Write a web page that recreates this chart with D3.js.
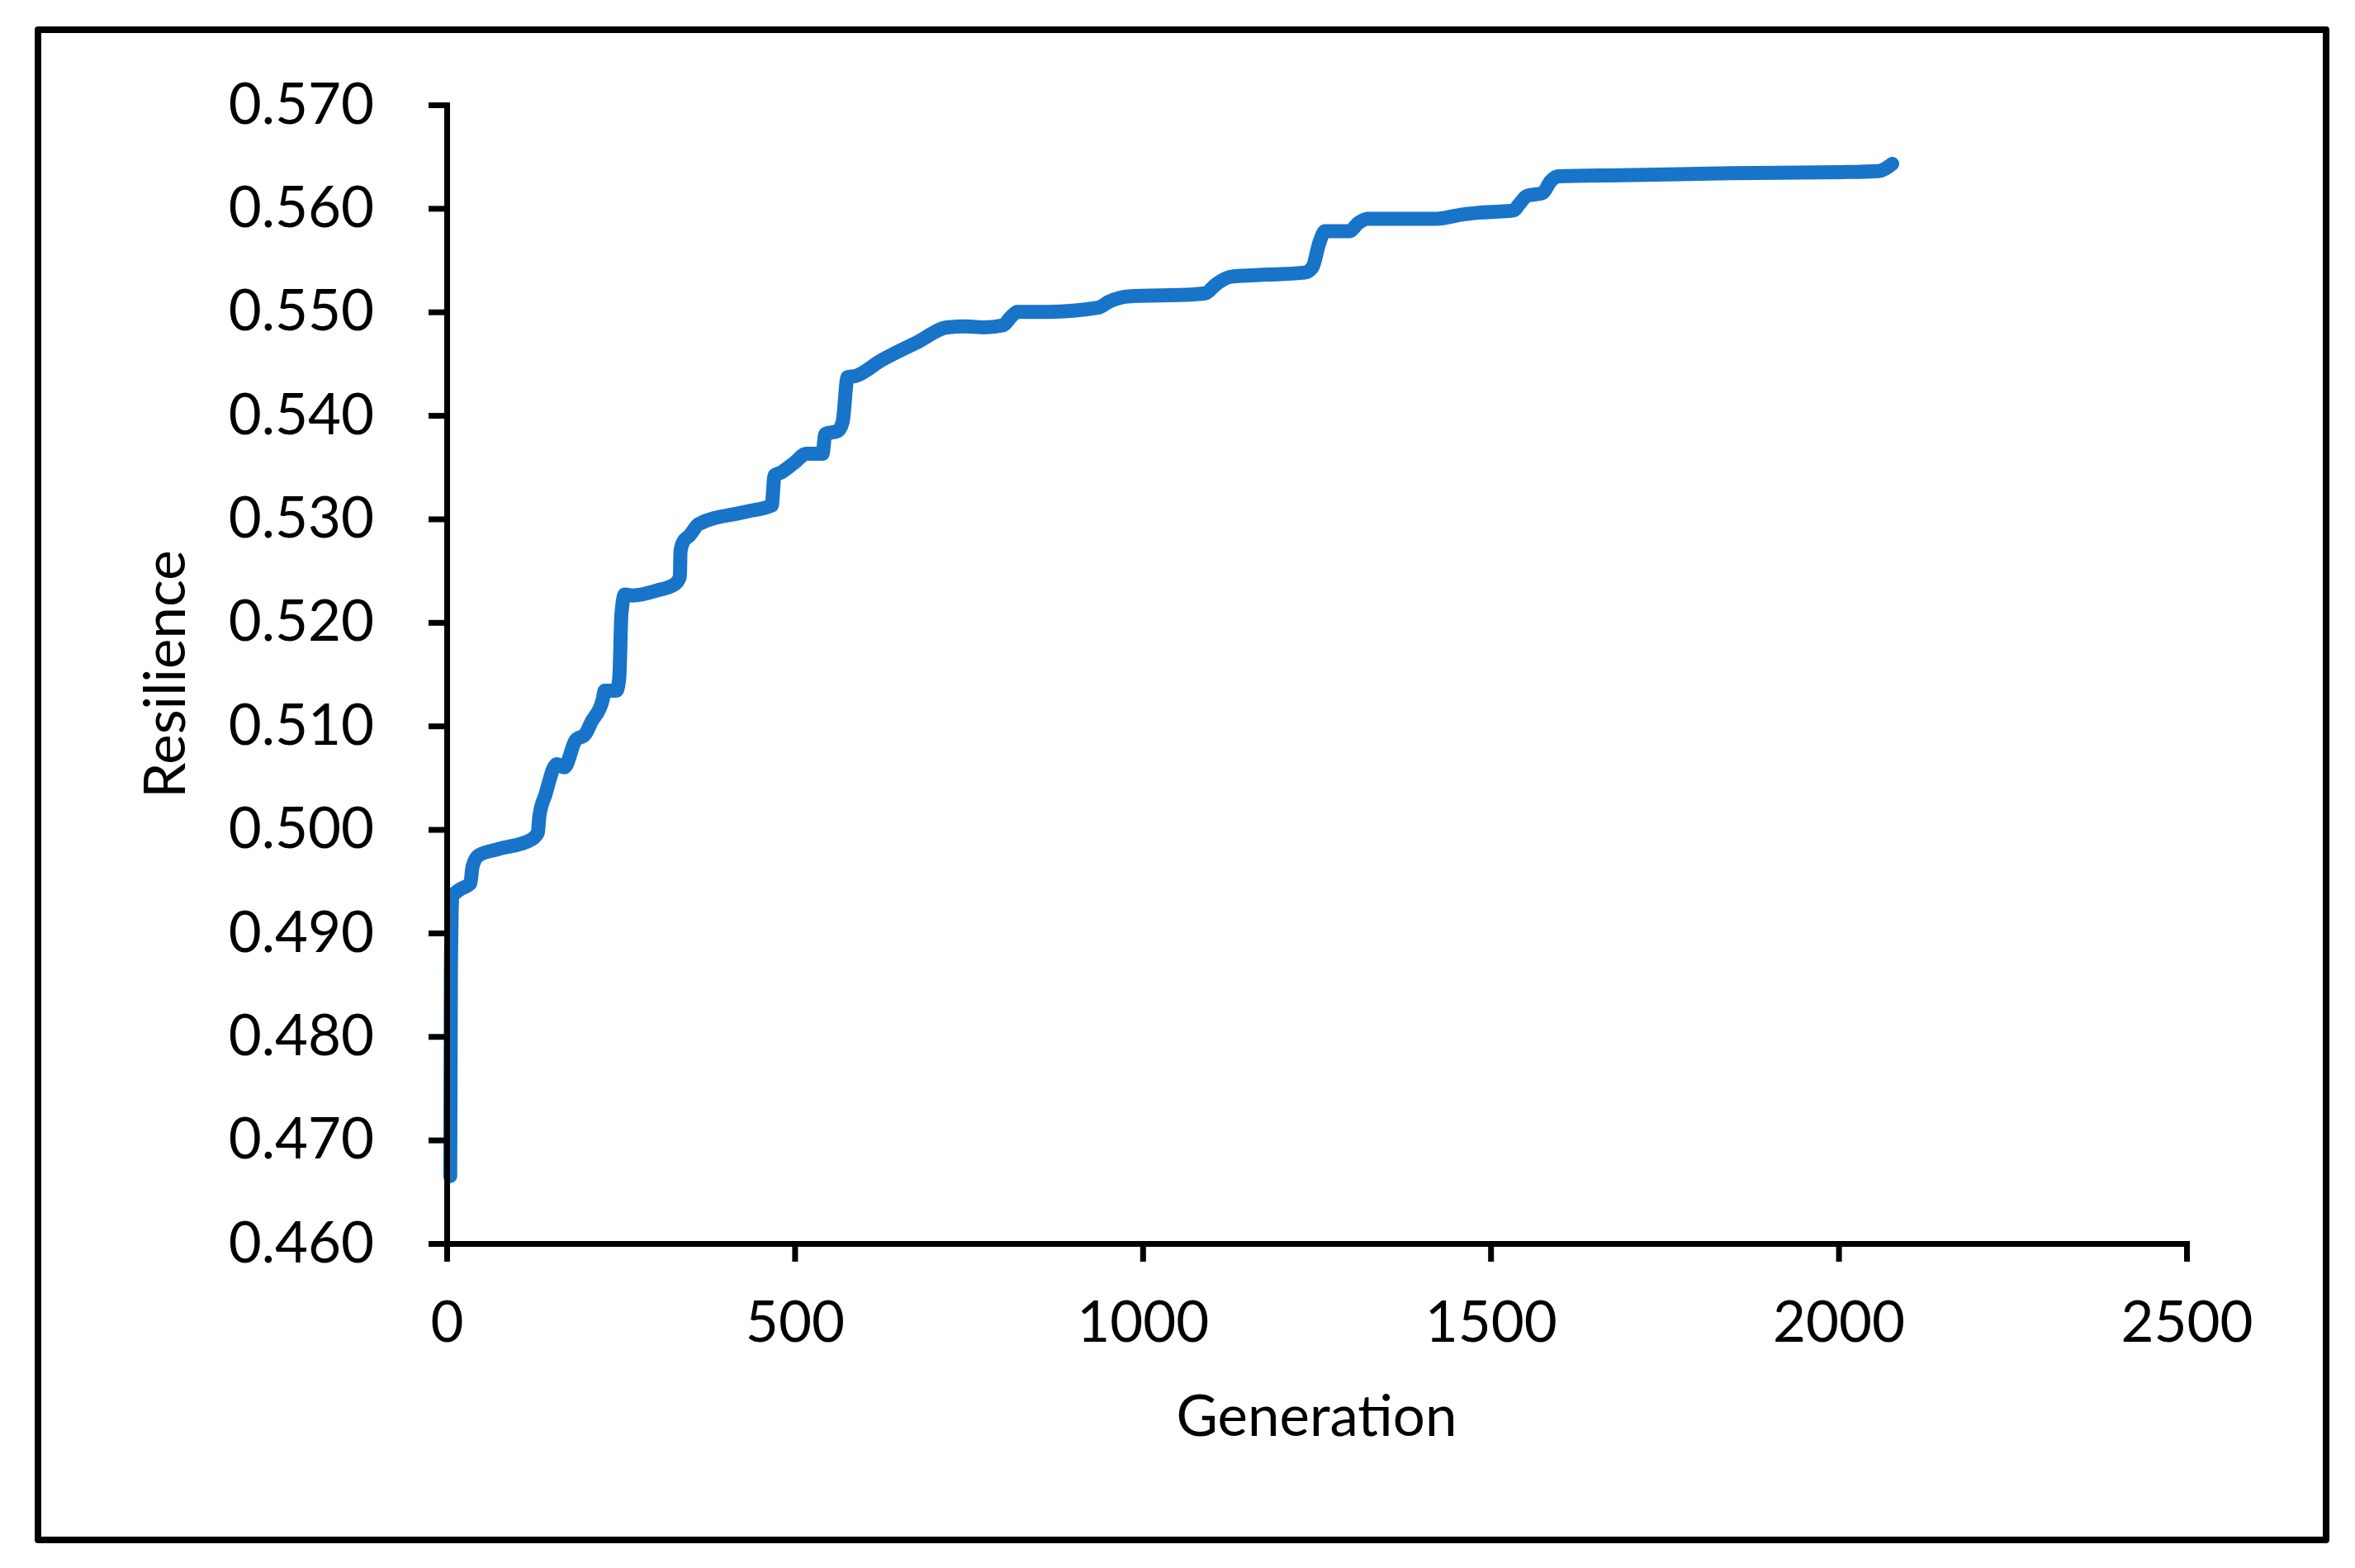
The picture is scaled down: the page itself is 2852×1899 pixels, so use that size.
<!DOCTYPE html>
<html>
<head>
<meta charset="utf-8">
<script src="https://cdn.jsdelivr.net/npm/d3@7"></script>
<style>
  html, body { margin: 0; padding: 0; background: #ffffff; }
  svg { display: block; }
</style>
</head>
<body>
<svg id="chart" width="2852" height="1899"></svg>
<script>
// ---- data ----
const generation = [5, 6, 8, 19, 34, 37, 46, 74, 121, 131, 133, 142, 158, 169, 185, 199, 208, 224, 227, 244, 248, 251, 256, 267, 303, 328, 335, 336, 340, 349, 362, 430, 467, 471, 481, 499, 517, 540, 544, 562, 569, 576, 587, 624, 677, 719, 746, 772, 799, 812, 820, 862, 936, 952, 979, 1074, 1090, 1106, 1127, 1180, 1233, 1244, 1254, 1262, 1297, 1310, 1323, 1422, 1459, 1486, 1533, 1541, 1552, 1575, 1586, 1597, 1687, 1845, 2004, 2057, 2077];
const resilience = [0.4665, 0.4860, 0.4935, 0.4942, 0.4948, 0.4964, 0.4975, 0.4981, 0.4990, 0.4997, 0.5012, 0.5034, 0.5063, 0.5060, 0.5086, 0.5092, 0.5104, 0.5125, 0.5134, 0.5134, 0.5147, 0.5208, 0.5227, 0.5226, 0.5231, 0.5237, 0.5244, 0.5269, 0.5278, 0.5284, 0.5295, 0.5307, 0.5313, 0.5342, 0.5345, 0.5354, 0.5363, 0.5363, 0.5382, 0.5385, 0.5394, 0.5437, 0.5438, 0.5453, 0.5471, 0.5485, 0.5486, 0.5485, 0.5487, 0.5496, 0.5500, 0.5500, 0.5504, 0.5510, 0.5515, 0.5517, 0.5518, 0.5527, 0.5534, 0.5536, 0.5538, 0.5543, 0.5567, 0.5578, 0.5578, 0.5586, 0.5590, 0.5590, 0.5594, 0.5596, 0.5598, 0.5604, 0.5612, 0.5615, 0.5626, 0.5631, 0.5632, 0.5634, 0.5635, 0.5636, 0.5643];
const xTicks = [0, 500, 1000, 1500, 2000, 2500];
const yTicks = [0.460, 0.470, 0.480, 0.490, 0.500, 0.510, 0.520, 0.530, 0.540, 0.550, 0.560, 0.570];
const xTitle = "Generation";
const yTitle = "Resilience";

// ---- layout ----
const FONT = "Lato, 'Open Sans', sans-serif";
const FS = "69px";
const svg = d3.select("#chart");

svg.append("rect")
  .attr("x", 46).attr("y", 36)
  .attr("width", 2771).attr("height", 1829)
  .attr("fill", "#ffffff")
  .attr("stroke", "#000000")
  .attr("stroke-width", 8)
  .attr("stroke-linejoin", "round");

const x = d3.scaleLinear().domain([0, 2500]).range([541, 2648]);
const y = d3.scaleLinear().domain([0.46, 0.57]).range([1506, 127]);

const data = generation.map((g, i) => ({ g, v: resilience[i] }));

const line = d3.line()
  .x(d => x(d.g))
  .y(d => y(d.v))
  .curve(d3.curveMonotoneX);

svg.append("path")
  .datum(data)
  .attr("d", line)
  .attr("fill", "none")
  .attr("stroke", "#1874c8")
  .attr("stroke-width", 17)
  .attr("stroke-linejoin", "round")
  .attr("stroke-linecap", "round");

// x axis
const gx = svg.append("g")
  .attr("transform", `translate(0,${y(0.46)})`)
  .call(d3.axisBottom(x).tickValues(xTicks).tickSize(22).tickSizeOuter(0).tickPadding(48).tickFormat(d3.format("d")));

// y axis
const gy = svg.append("g")
  .attr("transform", `translate(${x(0)},0)`)
  .call(d3.axisLeft(y).tickValues(yTicks).tickSize(22).tickSizeOuter(0).tickPadding(66).tickFormat(d3.format(".3f")));

[gx, gy].forEach(g => {
  g.select(".domain").attr("stroke", "#000").attr("stroke-width", 7).attr("stroke-linecap", "square");
  g.selectAll(".tick line").attr("stroke", "#000").attr("stroke-width", 7);
  g.selectAll(".tick text")
    .attr("fill", "#000")
    .style("font-family", FONT)
    .style("font-size", FS);
});

// axis titles
svg.append("text")
  .attr("x", (x(0) + x(2500)) / 2)
  .attr("y", 1739)
  .attr("text-anchor", "middle")
  .style("font-family", FONT)
  .style("font-size", FS)
  .attr("fill", "#000")
  .text(xTitle);

svg.append("text")
  .attr("transform", `translate(224,${(y(0.46) + y(0.57)) / 2}) rotate(-90)`)
  .attr("text-anchor", "middle")
  .style("font-family", FONT)
  .style("font-size", FS)
  .attr("fill", "#000")
  .text(yTitle);
</script>
</body>
</html>
